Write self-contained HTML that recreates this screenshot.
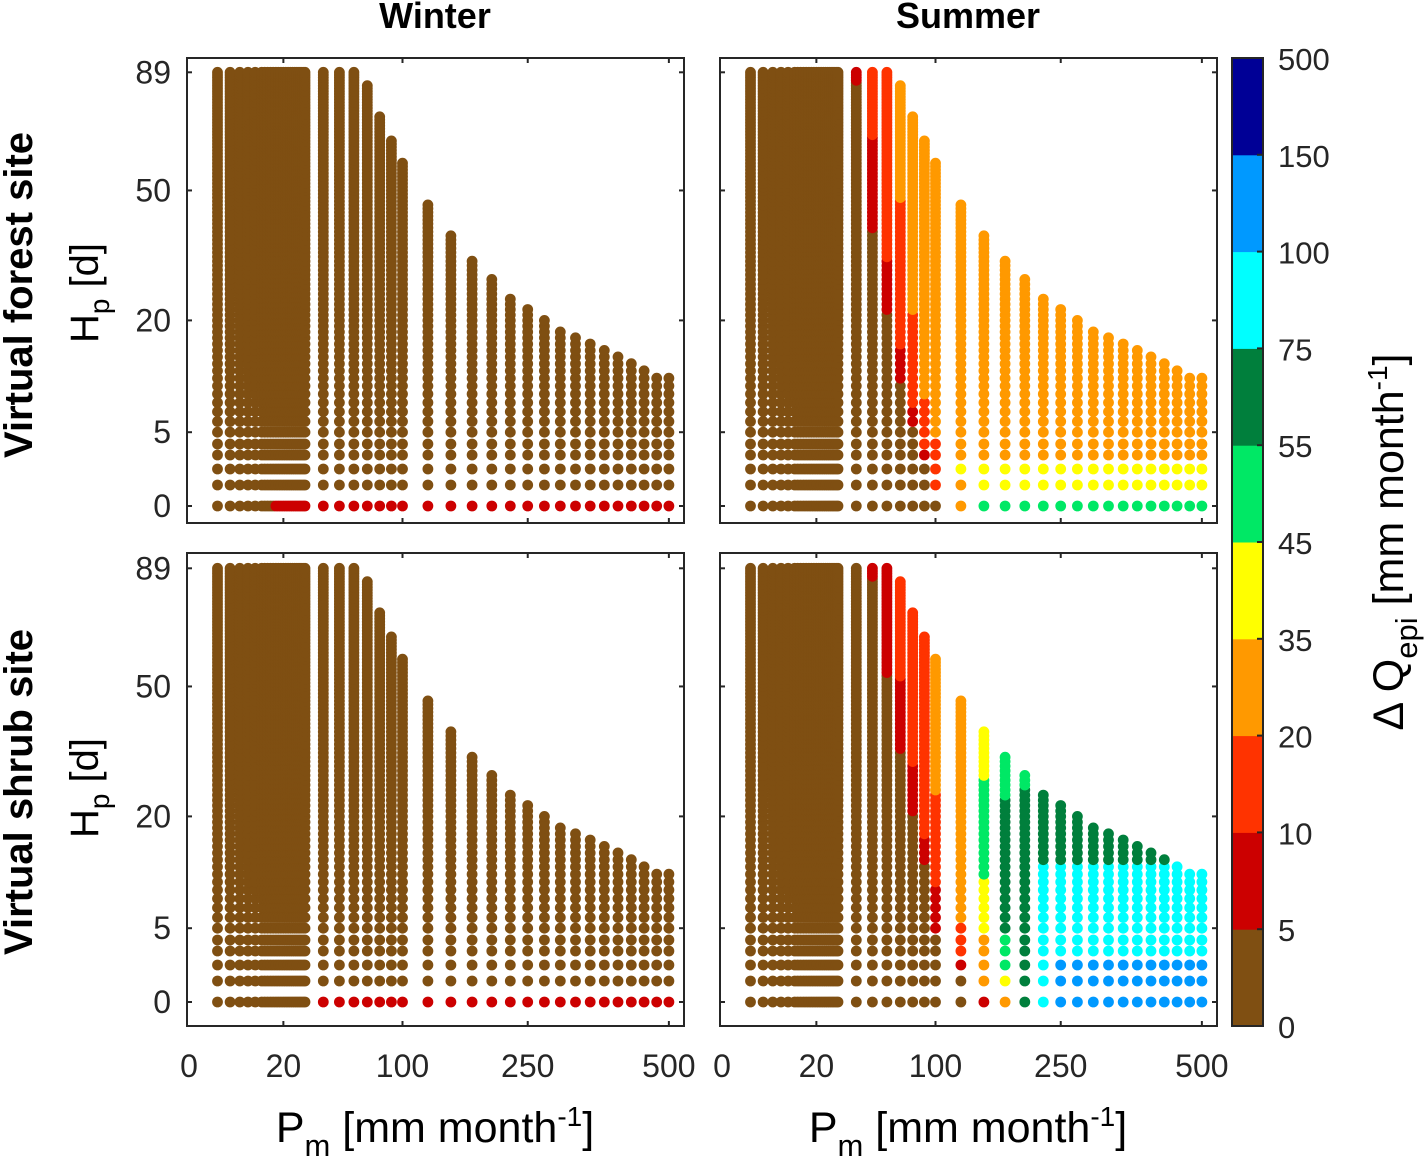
<!DOCTYPE html>
<html><head><meta charset="utf-8"><style>
body{margin:0;background:#fff}
svg{display:block;font-family:"Liberation Sans",Arial,sans-serif}
</style></head><body>
<svg id="chart" width="1427" height="1163" viewBox="0 0 1427 1163" xmlns="http://www.w3.org/2000/svg">
<g id="marks"></g>
<g id="frames"></g>
<g id="cbar"></g>
<text x="435" y="28" font-size="36" font-weight="bold" text-anchor="middle">Winter</text>
<text x="968" y="28" font-size="36" font-weight="bold" text-anchor="middle">Summer</text>
<text transform="translate(32,295) rotate(-90)" font-size="40" font-weight="bold" text-anchor="middle">Virtual forest site</text>
<text transform="translate(32,792) rotate(-90)" font-size="40" font-weight="bold" text-anchor="middle">Virtual shrub site</text>
<text transform="translate(98,293) rotate(-90)" font-size="40" text-anchor="middle">H<tspan font-size="28" dy="11">p</tspan><tspan dy="-11"> [d]</tspan></text>
<text transform="translate(98,788) rotate(-90)" font-size="40" text-anchor="middle">H<tspan font-size="28" dy="11">p</tspan><tspan dy="-11"> [d]</tspan></text>
<text x="435" y="1142" font-size="43" text-anchor="middle">P<tspan font-size="31" dy="14">m</tspan><tspan dy="-14"> [mm month</tspan><tspan font-size="28" dy="-16">-1</tspan><tspan dy="16">]</tspan></text>
<text x="968" y="1142" font-size="43" text-anchor="middle">P<tspan font-size="31" dy="14">m</tspan><tspan dy="-14"> [mm month</tspan><tspan font-size="28" dy="-16">-1</tspan><tspan dy="16">]</tspan></text>
<text transform="translate(1403,542) rotate(-90)" font-size="43" text-anchor="middle">Δ Q<tspan font-size="31" dy="14">epi</tspan><tspan dy="-14"> [mm month</tspan><tspan font-size="28" dy="-16">-1</tspan><tspan dy="16">]</tspan></text>
</svg>
<script>
const colors = ["#7f4f12","#cc0000","#ff3300","#ff9900","#ffff00","#00e865","#007f3c","#00ffff","#0099ff","#000096"];
const cbarLabels = ["0","5","10","20","35","45","55","75","100","150","500"];
const precip = [2,4,6,8,10,12,13,14,15,16,17,18,19,20,21,22,23,24,25,26,27,28,29,30,40,50,60,70,80,90,100,125,150,175,200,225,250,275,300,325,350,375,400,425,450,475,500];
const hmaxHigh = [84,73,65,58,46,38,32,28,24,22,20,18,17,16,15,14,13,12,11,11];
const xTickVals = [0,20,100,250,500];
const yTickVals = [0,5,20,50,89];
// rules: [Pmin,Pmax,Hmin,Hmax,class]
const rulesWinterForest = [[0,500,0,89,0],[17,500,0,0,1]];
const rulesWinterShrub = [[0,500,0,89,0],[40,500,0,0,1]];
const rulesSummerForest = [[0,500,0,89,0],[40,40,86,89,1],[50,50,40,66,1],[50,50,67,89,2],[60,60,22,32,1],[60,60,33,89,2],
 [70,70,11,15,1],[70,70,16,47,2],[70,70,48,89,3],[80,80,6,7,1],[80,80,8,21,2],[80,80,22,89,3],
 [90,90,3,3,1],[90,90,4,8,2],[90,90,9,89,3],[100,100,1,4,2],[100,100,5,89,3],
 [125,500,0,89,3],[150,500,0,0,5],[150,500,1,2,4],[125,125,2,2,4]];
const rulesSummerShrub = [[0,500,0,89,0],[50,50,86,89,1],[60,60,54,89,1],[70,70,34,52,1],[70,70,53,89,2],
 [80,80,21,30,1],[80,80,31,89,2],[90,90,13,16,1],[90,90,17,89,2],
 [100,100,5,9,1],[100,100,10,24,2],[100,100,25,89,3],
 [125,125,2,2,1],[125,125,3,5,2],[125,125,6,89,3],
 [150,150,0,0,1],[150,150,1,4,3],[150,150,5,10,4],[150,150,11,27,5],[150,150,28,89,4],
 [175,175,0,0,3],[175,175,1,1,4],[175,175,2,4,5],[175,175,5,23,6],[175,175,24,89,5],
 [200,200,0,25,6],[200,200,26,89,5],[225,500,0,12,7],[225,500,13,89,6],[250,500,0,2,8]];

const NS="http://www.w3.org/2000/svg";
function hmaxOf(P){ if(P<=60) return 89; const i=precip.indexOf(P)-precip.indexOf(70); return hmaxHigh[i]; }
function xs(P,x0){ return x0+21.55*Math.sqrt(P); }
const lowOff=[0,21,37,51,62];
function ys(H,y0){ let o; if(H>=4) o=-38+50*Math.sqrt(H); else { const i=Math.floor(H), f=H-i; o=lowOff[i]+(i<4?(lowOff[Math.min(i+1,4)]-lowOff[i])*f:0);} return y0-o; }
function cls(rules,P,H){ let c=0; for(const r of rules){ if(P>=r[0]&&P<=r[1]&&H>=r[2]&&H<=r[3]) c=r[4]; } return c; }

const panels=[
 {name:"winter-forest",x0:187,x1:684,top:58,bot:523,y0:506,rules:rulesWinterForest},
 {name:"summer-forest",x0:720,x1:1217,top:58,bot:523,y0:506,rules:rulesSummerForest},
 {name:"winter-shrub",x0:187,x1:684,top:553,bot:1026,y0:1002,rules:rulesWinterShrub},
 {name:"summer-shrub",x0:720,x1:1217,top:553,bot:1026,y0:1002,rules:rulesSummerShrub}];
const marks=document.getElementById('marks'), frames=document.getElementById('frames');
panels.forEach(p=>{
  const g=document.createElementNS(NS,'g');
  
  
  marks.appendChild(g);
  let html='';
  for(const P of precip){
    const hm=hmaxOf(P), x=xs(P,p.x0).toFixed(1);
    for(let H=0;H<=hm;H++){
      html+=`<circle cx="${x}" cy="${ys(H,p.y0).toFixed(1)}" r="5.4" fill="${colors[cls(p.rules,P,H)]}"/>`;
    }
  }
  g.innerHTML=html;
  const f=document.createElementNS(NS,'g');
  
  
  frames.appendChild(f);
  let s=`<rect x="${p.x0}" y="${p.top}" width="${p.x1-p.x0}" height="${p.bot-p.top}" fill="none" stroke="#262626" stroke-width="2"/>`;
  xTickVals.forEach(v=>{ const x=xs(v,p.x0); if(v>0){ s+=`<line x1="${x}" y1="${p.bot}" x2="${x}" y2="${p.bot-5}" stroke="#262626" stroke-width="2"/><line x1="${x}" y1="${p.top}" x2="${x}" y2="${p.top+5}" stroke="#262626" stroke-width="2"/>`;}
    if(p.bot>1000) s+=`<text x="${x+(v==0?2:0)}" y="1077" font-size="32" text-anchor="middle" fill="#262626">${v}</text>`; });
  yTickVals.forEach(v=>{ const y=ys(v,p.y0); s+=`<line x1="${p.x0}" y1="${y}" x2="${p.x0+5}" y2="${y}" stroke="#262626" stroke-width="2"/><line x1="${p.x1}" y1="${y}" x2="${p.x1-5}" y2="${y}" stroke="#262626" stroke-width="2"/>`;
    if(p.x0<200) s+=`<text x="171" y="${y+11}" font-size="32" text-anchor="end" fill="#262626">${v}</text>`; });
  f.innerHTML=s;
});
const cb=document.getElementById('cbar');


const cbTop=58, cbBot=1026, segH=(cbBot-cbTop)/colors.length;
let cs='';
colors.forEach((c,i)=>{ cs+=`<rect x="1232" y="${cbBot-(i+1)*segH}" width="31" height="${segH+0.5}" fill="${c}"/>`; });
cs+=`<rect x="1232" y="${cbTop}" width="31" height="${cbBot-cbTop}" fill="none" stroke="#262626" stroke-width="2"/>`;
cbarLabels.forEach((l,i)=>{ const y=cbBot-i*segH; cs+=`<line x1="1257" y1="${y}" x2="1263" y2="${y}" stroke="#262626" stroke-width="2"/><text x="1278" y="${y+12}" font-size="31" fill="#262626">${l}</text>`; });
cb.innerHTML=cs;
</script>
</body></html>
